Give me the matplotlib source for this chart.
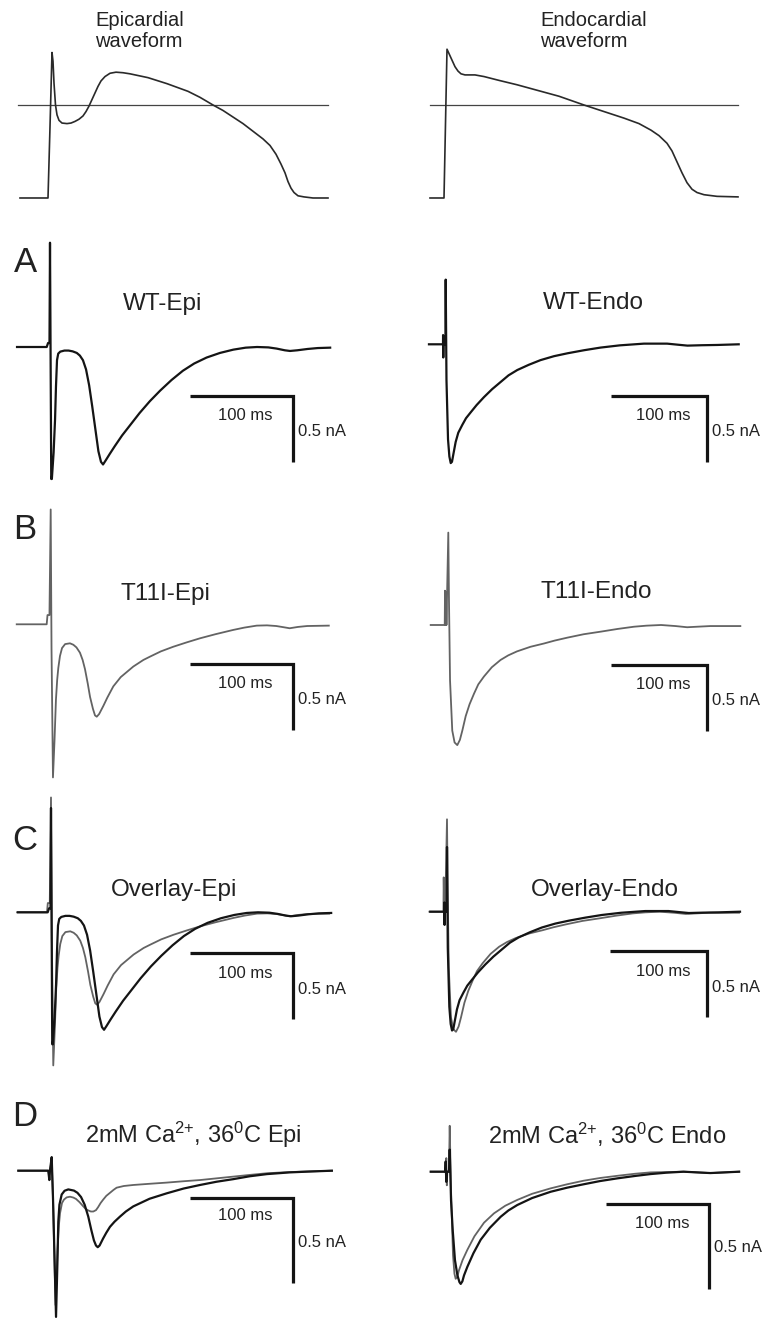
import numpy as np
import matplotlib
matplotlib.use("Agg")
import matplotlib.pyplot as plt

plt.rcParams['font.family'] = ['Liberation Sans', 'DejaVu Sans']
plt.rcParams['mathtext.fontset'] = 'custom'
plt.rcParams['mathtext.rm'] = 'Liberation Sans'
plt.rcParams['mathtext.it'] = 'Liberation Sans:italic'
plt.rcParams['lines.solid_joinstyle'] = 'round'

W, H = 768, 1319

# ---- action potential waveforms (ms, mV) ----
epi_ap_t = [-28, 0, 2, 4, 5, 6, 7.5, 9, 11, 14, 19, 23, 27, 31, 35, 38, 41, 44, 47, 50,
            53, 57, 62, 68, 75, 82, 100, 119, 140, 152, 165, 175, 185, 195, 205, 215,
            222, 228, 233, 237, 240, 243, 246, 250, 256, 265, 280]
epi_ap_v = [-85, -85, -20, 48, 40, 20, 0, -9, -14, -16.5, -17, -16.5, -15, -13, -10, -6,
            -1, 5, 11, 17, 22, 26, 29, 30, 29.5, 28.5, 25, 19.5, 12.5, 7, 0, -5, -11, -17,
            -24, -31, -37, -45, -54, -62, -70, -76, -80, -83, -84, -85, -85]
endo_ap_t = [-14, 0, 3, 5, 8, 11, 14, 17, 21, 26, 31, 40, 55, 73, 95, 115, 140, 160, 180,
             195, 207, 215, 223, 228, 233, 238, 243, 248, 253, 260, 273, 294]
endo_ap_v = [-85, -85, 51, 47, 41, 35, 31, 28.5, 27.5, 27.5, 27.5, 26, 22.5, 18.5, 13, 8,
             0, -6, -12, -17, -23, -28, -35, -42, -52, -62, -71, -77, -80, -82, -83.5, -84]
epi_zero_t = [-30, 280]
endo_zero_t = [-14, 294]

# ---- WT epi (ms, nA) ----
wt_epi_t = [-32, -3.2, -1.9, -0.5, 0, 0.4, 1.2, 1.8, 3.5, 4.9, 5.8, 6.8, 8, 10, 14, 18, 22,
            26, 29, 32, 35, 38, 41, 44, 47, 49.5, 51.5, 54, 58, 63, 70, 78, 87, 97, 107,
            118, 129, 140, 152, 165, 178, 190, 201, 212, 220, 228, 233, 240, 250, 260, 272]
wt_epi_i = [0, 0, 0.03, 0.03, 0.79, 0.2, -1.0, -1.0, -0.80, -0.55, -0.30, -0.10, -0.05,
            -0.035, -0.027, -0.027, -0.033, -0.045, -0.065, -0.10, -0.17, -0.29, -0.45,
            -0.62, -0.79, -0.87, -0.89, -0.86, -0.81, -0.75, -0.67, -0.59, -0.50, -0.41,
            -0.33, -0.25, -0.18, -0.125, -0.08, -0.045, -0.02, -0.005, 0.0, -0.003, -0.012,
            -0.025, -0.03, -0.025, -0.015, -0.008, -0.005]

# ---- WT endo ----
wt_endo_t = [-17.3, -2.8, -2.7, -2.5, -2.3, -0.3, 0, 0.8, 2.4, 3.8, 5.2, 6.5, 8, 10.3, 13,
             17.2, 21, 25.9, 32, 39.6, 48, 56.9, 65, 74, 86, 98, 112, 126, 143, 160, 180,
             205, 229, 240, 250, 265, 281, 303]
wt_endo_i = [0, 0, 0.07, -0.10, 0, 0, 0.49, -0.27, -0.72, -0.85, -0.90, -0.89, -0.83, -0.74,
             -0.67, -0.61, -0.56, -0.515, -0.46, -0.40, -0.34, -0.285, -0.235, -0.195,
             -0.155, -0.12, -0.09, -0.068, -0.045, -0.025, -0.008, 0.005, 0.005, -0.003,
             -0.01, -0.007, -0.005, 0]

# ---- T11I epi ----
t11i_epi_t = [-33, -3.9, -3.1, -1.2, 0, 0.8, 2.2, 3.7, 5.1, 6.3, 7.4, 9.0, 11, 14, 18.7, 22,
              25, 28.4, 31, 33.3, 36, 38.2, 41, 43, 44.7, 47, 51, 55, 60.8, 68, 80.2, 90,
              96.4, 107, 119, 132, 145, 160, 177, 188, 200, 210, 219, 226, 232, 240, 249, 270]
t11i_epi_i = [0, 0, 0.07, 0.07, 0.87, -0.19, -1.16, -0.88, -0.57, -0.42, -0.33, -0.24, -0.18,
              -0.15, -0.144, -0.155, -0.175, -0.215, -0.27, -0.34, -0.45, -0.55, -0.64,
              -0.69, -0.70, -0.68, -0.62, -0.555, -0.47, -0.40, -0.32, -0.27, -0.245, -0.205,
              -0.17, -0.137, -0.106, -0.075, -0.043, -0.025, -0.01, -0.008, -0.013, -0.022,
              -0.03, -0.02, -0.013, -0.01]

# ---- T11I endo ----
t11i_endo_t = [-18.2, -3.7, -3.4, -2.8, -2.4, -1.9, 0, 0.7, 1.8, 4.1, 6.5, 9.3, 12, 14.5, 18,
               22, 26.6, 31, 36.9, 45, 54, 62, 71, 85, 99, 110, 123, 140, 158, 175, 192,
               205, 220, 235, 247, 260, 271, 302]
t11i_endo_i = [0, 0, 0.26, 0, 0.25, 0, 0.70, 0.19, -0.42, -0.80, -0.89, -0.91, -0.87, -0.80,
               -0.69, -0.60, -0.52, -0.45, -0.39, -0.32, -0.265, -0.23, -0.20, -0.165, -0.14,
               -0.118, -0.096, -0.07, -0.05, -0.03, -0.013, -0.005, 0, -0.008, -0.017,
               -0.012, -0.008, -0.008]

# ---- 2 mM Ca, 36 C epi ----
ca_wt_epi_t = [-32.4, -3.3, -2.3, -1.7, 0, 1.3, 4.2, 5.6, 6.4, 7.5, 9.7, 12.5, 16.1, 21.6,
               25, 28.5, 32, 35.5, 38.5, 41, 43, 44.7, 46.5, 49.8, 53, 56.6, 61, 66.3, 72,
               79.2, 95, 111.7, 128, 144, 160, 176, 192, 209, 231, 250, 272]
ca_wt_epi_i = [0, 0, -0.055, 0, 0.08, -0.17, -0.86, -0.53, -0.30, -0.20, -0.14, -0.118,
               -0.11, -0.117, -0.13, -0.155, -0.20, -0.27, -0.35, -0.41, -0.44, -0.45, -0.44,
               -0.40, -0.365, -0.33, -0.30, -0.27, -0.24, -0.21, -0.165, -0.133, -0.105,
               -0.084, -0.065, -0.05, -0.033, -0.02, -0.01, -0.005, 0]
ca_t11i_epi_t = [-32.4, -3.3, -2.3, -1.7, 0, 1.3, 3.7, 5.6, 7, 8.1, 10, 11.9, 14.5, 17.8, 21,
                 23.6, 27, 30.7, 33, 35.2, 38, 40.4, 43, 45, 47.5, 50, 53, 56.6, 60, 63, 70,
                 79.2, 95, 111.7, 128, 144, 160, 176, 192, 209, 231, 272]
ca_t11i_epi_i = [0, 0, -0.04, 0, 0.06, -0.17, -0.79, -0.47, -0.32, -0.25, -0.19, -0.17,
                 -0.157, -0.153, -0.158, -0.166, -0.185, -0.21, -0.225, -0.233, -0.24, -0.24,
                 -0.232, -0.215, -0.19, -0.17, -0.148, -0.13, -0.113, -0.10, -0.09, -0.084,
                 -0.077, -0.07, -0.062, -0.055, -0.045, -0.035, -0.025, -0.015, -0.008, 0]

# ---- 2 mM Ca, 36 C endo ----
ca_wt_endo_t = [-18.4, -4.4, -3.9, -3.3, -2.6, -0.7, 0, 1.3, 3, 5.1, 7.5, 9.5, 10.7, 12.3,
                13.9, 17.1, 23, 30.1, 39, 49.5, 57, 65.6, 80, 98, 114, 130, 146, 163, 180,
                195, 210, 227, 253, 281]
ca_wt_endo_i = [0, 0, 0.06, -0.06, 0, 0, 0.13, -0.17, -0.35, -0.52, -0.61, -0.65, -0.66,
                -0.645, -0.61, -0.56, -0.48, -0.40, -0.33, -0.265, -0.228, -0.196, -0.155,
                -0.118, -0.094, -0.074, -0.055, -0.039, -0.025, -0.014, -0.006, 0, -0.008, 0]
ca_t11i_endo_t = [-18.4, -3.9, -3.3, -2.8, -2.3, -0.7, 0, 1.3, 3.2, 4.6, 5.8, 7.3, 9, 12.5,
                  17.1, 24, 33.3, 43, 54, 65.6, 80, 98, 114, 130, 146, 163, 180, 195, 227,
                  253, 281]
ca_t11i_endo_i = [0, 0, 0.08, -0.08, 0, 0, 0.27, -0.11, -0.49, -0.60, -0.63, -0.62, -0.58,
                  -0.52, -0.46, -0.38, -0.30, -0.245, -0.20, -0.166, -0.13, -0.098, -0.074,
                  -0.053, -0.037, -0.024, -0.012, -0.004, 0, -0.008, 0]

BLACK = '#141414'
GRAY = '#636363'
TXT = '#222222'

fig = plt.figure(figsize=(W / 100, H / 100), dpi=100)


def panel(ox, oy, sx, sy, left, right, top, bottom):
    # ox, oy = pixel of t=0 / y=0 ; sx, sy = pixels per unit
    ax = fig.add_axes([left / W, 1 - bottom / H, (right - left) / W, (bottom - top) / H])
    ax.set_xlim((left - ox) / sx, (right - ox) / sx)
    ax.set_ylim((oy - bottom) / sy, (oy - top) / sy)
    ax.axis('off')
    ax.patch.set_alpha(0)
    return ax


def scalebar(ax, t, i, h=0.5, dx_lab=(4, 20), dy_lab=36):
    ax.plot([t - 100, t, t], [i, i, i - h], color=BLACK, lw=2.3, solid_joinstyle='miter',
            solid_capstyle='butt')
    ax.annotate('100 ms', (t - 50, i), xytext=(dx_lab[0], -dx_lab[1]),
                textcoords='offset pixels', ha='center', va='center', fontsize=12, color=TXT)
    ax.annotate('0.5 nA', (t, i), xytext=(5, -dy_lab), textcoords='offset pixels',
                ha='left', va='center', fontsize=12, color=TXT)


def ftext(x, y, s, size, ha='center', **kw):
    fig.text(x / W, 1 - y / H, s, fontsize=size, ha=ha, va='center', color=TXT, **kw)


# ---- top row: action potentials ----
ax = panel(48, 105, 1.0, 1.094, 0, 384, 45, 210)
ax.plot(epi_zero_t, [0, 0], color='#444444', lw=0.9)
ax.plot(epi_ap_t, epi_ap_v, color='#2a2a2a', lw=1.2)
ax = panel(444, 105, 1.0, 1.094, 384, 768, 45, 210)
ax.plot(endo_zero_t, [0, 0], color='#444444', lw=0.9)
ax.plot(endo_ap_t, endo_ap_v, color='#2a2a2a', lw=1.2)
fig.text(95 / W, 1 - 31 / H, 'Epicardial\nwaveform', fontsize=14.5, ha='left', va='center',
         color=TXT, linespacing=1.12)
fig.text(540 / W, 1 - 31 / H, 'Endocardial\nwaveform', fontsize=14.5, ha='left', va='center',
         color=TXT, linespacing=1.12)

# ---- A ----
ax = panel(50, 347, 1.03, 132, 0, 384, 225, 490)
ax.plot(wt_epi_t, wt_epi_i, color=BLACK, lw=1.6)
scalebar(ax, 236, -0.37)
ax = panel(445.7, 344.3, 0.967, 132, 384, 768, 225, 490)
ax.plot(wt_endo_t, wt_endo_i, color=BLACK, lw=1.6)
scalebar(ax, 270.5, -0.39)
ftext(25, 263, 'A', 25)
ftext(163, 304, 'WT-Epi', 17.5)
ftext(593, 303, 'WT-Endo', 17.5)

# ---- B ----
ax = panel(50.7, 624.3, 1.03, 132, 0, 384, 490, 790)
ax.plot(t11i_epi_t, t11i_epi_i, color=GRAY, lw=1.3)
scalebar(ax, 235, -0.30)
ax = panel(448.3, 625, 0.967, 132, 384, 768, 490, 790)
ax.plot(t11i_endo_t, t11i_endo_i, color=GRAY, lw=1.3)
scalebar(ax, 268, -0.30)
ftext(25, 530, 'B', 25)
ftext(165, 594, 'T11I-Epi', 17.5)
ftext(596, 592, 'T11I-Endo', 17.5)

# ---- C ----
ax = panel(51, 912.3, 1.03, 132, 0, 384, 785, 1090)
ax.plot(t11i_epi_t, t11i_epi_i, color=GRAY, lw=1.3)
ax.plot(wt_epi_t, wt_epi_i, color=BLACK, lw=1.6)
scalebar(ax, 235, -0.31)
ax = panel(447, 911.7, 0.967, 132, 384, 768, 785, 1090)
ax.plot(t11i_endo_t, t11i_endo_i, color=GRAY, lw=1.3)
ax.plot(wt_endo_t, wt_endo_i, color=BLACK, lw=1.6)
scalebar(ax, 269, -0.30)
ftext(25, 840, 'C', 25)
ftext(174, 890, 'Overlay-Epi', 17.5)
ftext(605, 890, 'Overlay-Endo', 17.5)

# ---- D ----
ax = panel(51.7, 1170.7, 1.03, 170, 0, 384, 1090, 1319)
ax.plot(ca_t11i_epi_t, ca_t11i_epi_i, color=GRAY, lw=1.3)
ax.plot(ca_wt_epi_t, ca_wt_epi_i, color=BLACK, lw=1.6)
scalebar(ax, 234, -0.16, dx_lab=(4, 18), dy_lab=45)
ax = panel(449.7, 1171.7, 1.03, 170, 384, 768, 1090, 1319)
ax.plot(ca_t11i_endo_t, ca_t11i_endo_i, color=GRAY, lw=1.3)
ax.plot(ca_wt_endo_t, ca_wt_endo_i, color=BLACK, lw=1.6)
scalebar(ax, 252, -0.19, dx_lab=(4, 19), dy_lab=44)
ftext(25, 1117, 'D', 25)
ftext(193, 1135, r'2mM Ca$^{2{+}}$, 36$^{0}$C Epi', 17)
ftext(607, 1135, r'2mM Ca$^{2{+}}$, 36$^{0}$C Endo', 17)

fig.savefig('out.png', dpi=100, facecolor='white')
